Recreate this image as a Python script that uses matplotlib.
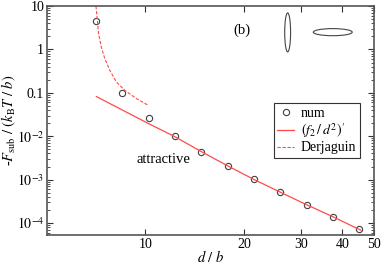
import numpy as np
import matplotlib
matplotlib.use('Agg')
import matplotlib.pyplot as plt
from matplotlib.patches import Ellipse
from matplotlib.ticker import FixedLocator, FixedFormatter, NullLocator

plt.rcParams['font.family'] = ['Liberation Serif', 'DejaVu Serif']
plt.rcParams['mathtext.fontset'] = 'stix'

# numerical points
d_num = [7.08, 8.50, 10.24, 12.29, 14.84, 17.9, 21.46, 25.78, 31.1, 37.4, 45.1]
F_num = [4.52, 0.098, 0.0265, 0.0100, 0.00437, 0.00205, 0.00101, 5.18e-4, 2.64e-4, 1.40e-4, 7.4e-5]

# (f2/d^2)' curve
d_fit = [7.08, 10.2, 12.29, 14.84, 17.9, 21.46, 25.78, 31.1, 37.4, 45.6]
F_fit = [0.082, 0.0197, 0.0098, 0.0044, 0.00205, 0.00101, 5.18e-4, 2.64e-4, 1.40e-4, 6.8e-5]

# Derjaguin curve
d_der = [7.06, 7.13, 7.19, 7.33, 7.51, 7.78, 8.15, 8.64, 9.38, 10.18]
F_der = [10.0, 4.69, 2.32, 1.14, 0.617, 0.331, 0.178, 0.115, 0.074, 0.052]

xticks = [10, 20, 30, 40, 50]
yticks = [1e-4, 1e-3, 1e-2, 0.1, 1, 10]
ylabels = ['$10^{-4}$', '$10^{-3}$', '$10^{-2}$', '0.1', '1', '10']

red = '#ff4a4a'
fig = plt.figure(figsize=(3.82, 2.64), dpi=100)
ax = fig.add_axes([0.123, 0.110, 0.856, 0.867])

ax.plot(d_num, F_num, 'o', mfc='none', mec='#404040', ms=4.5, mew=0.8, label='num')
ax.plot(d_fit, F_fit, '-', color=red, lw=0.9, label="$(f_2\\,/\\,d^2)'$")
ax.plot(d_der, F_der, color=red, lw=0.8, ls=(0, (3, 1.5)), label='Derjaguin')

ax.set_xscale('log')
ax.set_yscale('log')
ax.set_xlim(5, 50)
ax.set_ylim(5.3e-5, 10)

ax.xaxis.set_major_locator(FixedLocator(xticks))
ax.xaxis.set_major_formatter(FixedFormatter([str(t) for t in xticks]))
ax.xaxis.set_minor_locator(NullLocator())
ax.yaxis.set_major_locator(FixedLocator(yticks))
ax.yaxis.set_major_formatter(FixedFormatter(ylabels))
ax.tick_params(which='both', direction='in', top=True, right=True, labelsize=10, colors='#333333', labelcolor='black', pad=2)
ax.tick_params(which='major', length=4, width=0.8)
ax.tick_params(which='minor', length=2, width=0.6)
for s in ax.spines.values():
    s.set_color('#555555')
    s.set_linewidth(1.2)

ax.set_xlabel('$d\\ /\\ b$', fontsize=10.5, labelpad=-1)
ax.set_ylabel('-$F_{\\rm sub}\\ /\\ (k_{\\rm B}T\\ /\\ b)$', fontsize=10.5, labelpad=-1)

ax.text(0.595, 0.893, '(b)', transform=ax.transAxes, fontsize=10.5, ha='center', va='center')
ax.text(0.357, 0.328, 'attractive', transform=ax.transAxes, fontsize=10.5, ha='center', va='center')

ax.add_patch(Ellipse((0.736, 0.885), 0.018, 0.170, transform=ax.transAxes, fill=False, ec='#444444', lw=0.8))
ax.add_patch(Ellipse((0.874, 0.886), 0.119, 0.031, transform=ax.transAxes, fill=False, ec='#444444', lw=0.8))

leg = ax.legend(loc='upper left', bbox_to_anchor=(0.694, 0.575), fontsize=10, frameon=True, fancybox=False,
                edgecolor='#333333', framealpha=1, handlelength=1.2, handletextpad=0.5, borderpad=0.25,
                labelspacing=0.1, borderaxespad=0)
leg.get_frame().set_linewidth(0.8)

fig.savefig('out.png', dpi=100)
